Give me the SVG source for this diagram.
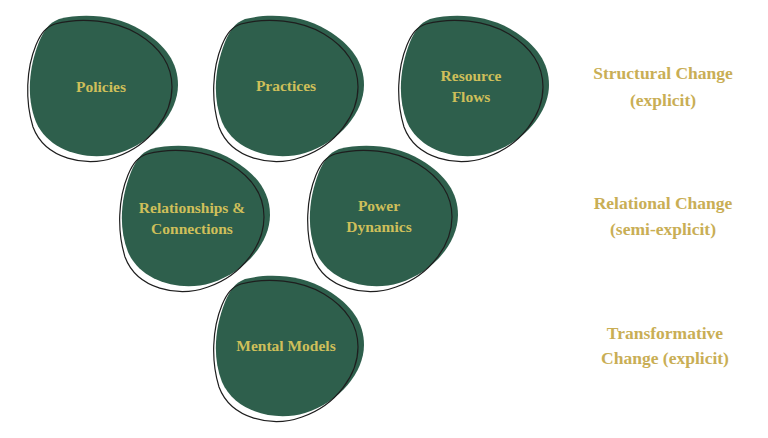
<svg xmlns="http://www.w3.org/2000/svg" xmlns:xlink="http://www.w3.org/1999/xlink" width="768" height="438" viewBox="0 0 768 438">
<style>
.blob{fill:#2e5f4c}
.ring{fill:none;stroke:#1e1e1e;stroke-width:1.2}
.nt{font-family:"Liberation Serif","DejaVu Serif",serif;font-weight:bold;font-size:15.5px;fill:#cfbf5a;text-anchor:middle}
.lt{font-family:"Liberation Serif","DejaVu Serif",serif;font-weight:bold;font-size:17.5px;fill:#c9ae55;text-anchor:middle}
</style>
<defs>
<path id="b" d="M -45,-68 C -20,-74 12,-72 37,-57 C 62,-42 74,-24 74,-2 C 74,25 50,55 15,66 C -15,75 -55,65 -68,35 C -78,10 -75,-20 -65,-45 C -60,-57 -55,-64 -45,-68 Z"/>
<path id="r" d="M -48,-65 C -22,-72 12,-69 35,-55 C 58,-41 69,-24 69,-2 C 69,25 48,56 13,68 C -17,79 -58,70 -70,38 C -78,12 -77,-20 -67,-44 C -62,-56 -57,-62 -48,-65 Z"/>
</defs>
<rect width="768" height="438" fill="#ffffff"/>
<g id="policies">
<use xlink:href="#b" class="blob" transform="translate(104,87)"/>
<use xlink:href="#r" class="ring" transform="translate(103,89)"/>
<text class="nt" x="101" y="92">Policies</text>
</g>
<g id="practices">
<use xlink:href="#b" class="blob" transform="translate(290,87)"/>
<use xlink:href="#r" class="ring" transform="translate(289,89)"/>
<text class="nt" x="286" y="91">Practices</text>
</g>
<g id="resource-flows">
<use xlink:href="#b" class="blob" transform="translate(475,87)"/>
<use xlink:href="#r" class="ring" transform="translate(474,89)"/>
<text class="nt" x="471" y="81">Resource</text>
<text class="nt" x="471" y="102">Flows</text>
</g>
<g id="relationships">
<use xlink:href="#b" class="blob" transform="translate(196,217)"/>
<use xlink:href="#r" class="ring" transform="translate(195,219)"/>
<text class="nt" x="192" y="213">Relationships &amp;</text>
<text class="nt" x="192" y="234">Connections</text>
</g>
<g id="power-dynamics">
<use xlink:href="#b" class="blob" transform="translate(384,217)"/>
<use xlink:href="#r" class="ring" transform="translate(383,219)"/>
<text class="nt" x="379" y="211">Power</text>
<text class="nt" x="379" y="232">Dynamics</text>
</g>
<g id="mental-models">
<use xlink:href="#b" class="blob" transform="translate(290,347)"/>
<use xlink:href="#r" class="ring" transform="translate(289,349)"/>
<text class="nt" x="286" y="351">Mental Models</text>
</g>
<g id="labels">
<text class="lt" x="663" y="79">Structural Change</text>
<text class="lt" x="663" y="106">(explicit)</text>
<text class="lt" x="663" y="209">Relational Change</text>
<text class="lt" x="663" y="235">(semi-explicit)</text>
<text class="lt" x="665" y="339">Transformative</text>
<text class="lt" x="665" y="364">Change (explicit)</text>
</g>
<g id="connectors"></g>
</svg>
